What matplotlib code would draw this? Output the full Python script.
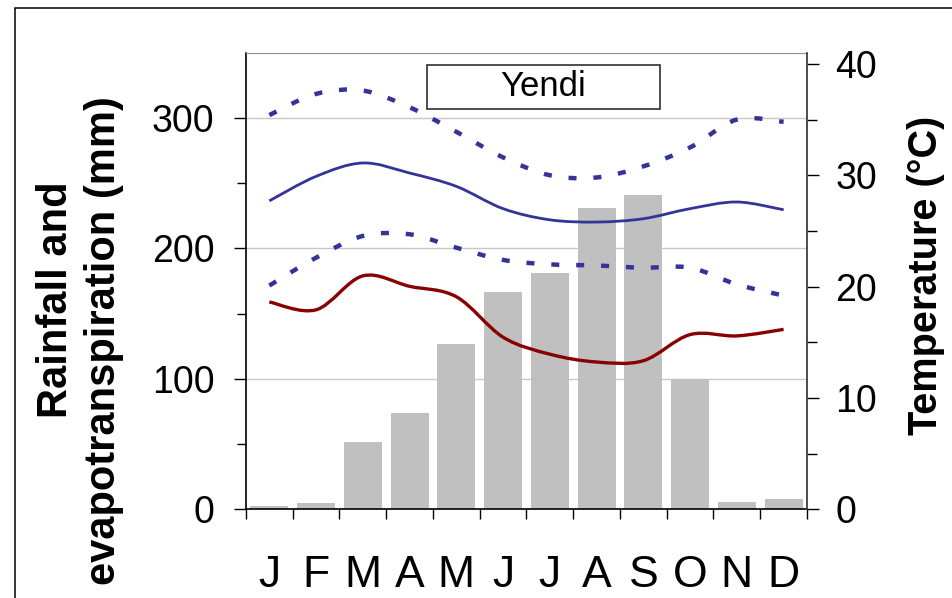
import numpy as np
import matplotlib
matplotlib.use("Agg")
import matplotlib.pyplot as plt
from matplotlib.path import Path
from matplotlib.patches import PathPatch, Rectangle

plt.rcParams['font.family'] = ['Liberation Sans', 'DejaVu Sans']

# ─── DATA ────────────────────────────────────────────────────────────────────
months   = ["J", "F", "M", "A", "M", "J", "J", "A", "S", "O", "N", "D"]
rainfall = [3, 5, 52, 74, 127, 167, 181, 231, 241, 100, 6, 8]          # mm
evapo    = [159, 153, 179, 171, 163, 132, 119, 113, 114, 134, 133, 138]  # mm
t_max    = [35.4, 37.3, 37.6, 36.1, 33.9, 31.6, 30.0, 29.8, 30.8, 32.5, 35.0, 34.8]
t_mean   = [27.7, 29.9, 31.1, 30.2, 29.0, 27.0, 26.0, 25.8, 26.1, 27.0, 27.6, 26.9]
t_min    = [20.1, 22.6, 24.55, 24.7, 23.5, 22.4, 22.0, 21.9, 21.7, 21.7, 20.2, 19.2]
station  = "Yendi"

BAR_C  = "#C0C0C0"
BLUE   = "#333399"
RED    = "#880000"


def smooth_path(xs, ys):
    """Excel-style smoothed line: cubic Bezier segments through the points."""
    pts = np.column_stack([xs, ys]).astype(float)
    n = len(pts)
    verts = [pts[0]]
    codes = [Path.MOVETO]
    for i in range(n - 1):
        p0 = pts[i - 1] if i > 0 else pts[i]
        p1, p2 = pts[i], pts[i + 1]
        p3 = pts[i + 2] if i + 2 < n else pts[i + 1]
        verts += [p1 + (p2 - p0) / 6.0, p2 - (p3 - p1) / 6.0, p2]
        codes += [Path.CURVE4] * 3
    return Path(verts, codes)


def add_curve(ax, ys, color, lw, ls="-"):
    x = np.arange(len(ys))
    patch = PathPatch(smooth_path(x, ys), fill=False, edgecolor=color,
                      linewidth=lw, linestyle=ls, capstyle="butt",
                      joinstyle="round", zorder=3)
    ax.add_patch(patch)


fig = plt.figure(figsize=(9.53, 5.98), dpi=100)
ax = fig.add_axes([0.2581, 0.148, 0.5887, 0.7639])
ax2 = ax.twinx()

x = np.arange(len(months))
ax.bar(x, rainfall, width=0.81, color=BAR_C, zorder=2)
add_curve(ax, evapo, RED, 2.4)

add_curve(ax2, t_max, BLUE, 3.2, (0, (1.8, 3.8)))
add_curve(ax2, t_mean, BLUE, 2.0)
add_curve(ax2, t_min, BLUE, 3.2, (0, (1.8, 3.8)))

# ── left axis ────────────────────────────────────────────────────────────────
ax.set_xlim(-0.5, 11.5)
ax.set_ylim(0, 350)
ax.set_yticks([0, 100, 200, 300])
ax.set_yticks([50, 150, 250], minor=True)
ax.yaxis.grid(True, which="major", color="#C8C8C8", linewidth=1.0)
ax.set_axisbelow(True)

ax.set_xticks(np.arange(-0.5, 12, 1.0))
ax.set_xticklabels([])
ax.set_xticks(x, minor=True)
ax.set_xticklabels(months, minor=True, fontsize=32)
ax.tick_params(axis="x", which="major", direction="out", length=7.5,
               width=1, top=False)
ax.tick_params(axis="x", which="minor", length=0, pad=33, top=False)
ax.tick_params(axis="y", which="major", direction="out", length=8.6,
               width=1, labelsize=27, pad=14)
ax.tick_params(axis="y", which="minor", direction="out", length=6.5, width=1)

# ── right axis ───────────────────────────────────────────────────────────────
ax2.set_ylim(0, 41)
ax2.set_yticks([0, 10, 20, 30, 40])
ax2.set_yticks([5, 15, 25, 35], minor=True)
ax2.tick_params(axis="y", which="major", direction="out", length=8.6,
                width=1, labelsize=27, pad=12)
ax2.tick_params(axis="y", which="minor", direction="out", length=7, width=1)

for sp in ["left", "bottom"]:
    ax.spines[sp].set_color("black")
    ax.spines[sp].set_linewidth(1.2)
ax.spines["top"].set_color("#909090")
ax.spines["right"].set_visible(False)
for sp in ["left", "bottom", "top"]:
    ax2.spines[sp].set_visible(False)
ax2.spines["right"].set_color("#303030")
ax2.spines["right"].set_linewidth(1.2)

# ── station box ──────────────────────────────────────────────────────────────
ax.add_patch(Rectangle((0.3226, 0.8768), 0.4153, 0.0963, transform=ax.transAxes,
                       facecolor="white", edgecolor="#303030", linewidth=1.2,
                       zorder=5))
ax2.text(0.530, 0.925, station, transform=ax.transAxes, ha="center",
         va="center", fontsize=25, zorder=6)

# ── axis titles ──────────────────────────────────────────────────────────────
fig.text(0.0588, 0.4983, "Rainfall and", rotation=90, ha="center",
         va="center", fontsize=30, fontweight="bold")
fig.text(0.1091, 0.4298, "evapotranspiration (mm)", rotation=90, ha="center",
         va="center", fontsize=30, fontweight="bold")
fig.text(0.9717, 0.540, "Temperature (°C)", rotation=90, ha="center",
         va="center", fontsize=28.5, fontweight="bold")

# outer chart border (only top and left visible in the crop)
fig.patches.append(Rectangle((15 / 953, -0.2), 1.2, 0.2 + 590 / 598,
                             transform=fig.transFigure, fill=False,
                             edgecolor="black", linewidth=1.1))

fig.savefig("out.png", dpi=100)
